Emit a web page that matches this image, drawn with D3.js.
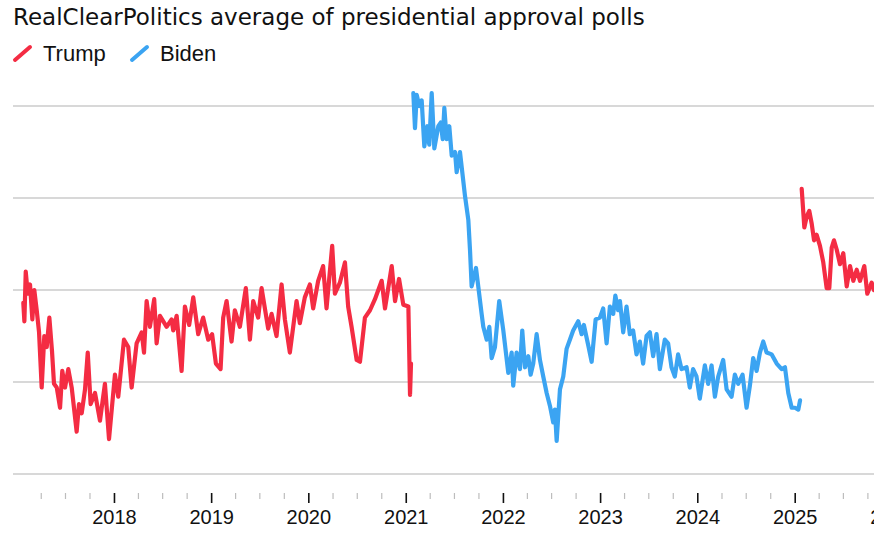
<!DOCTYPE html>
<html>
<head>
<meta charset="utf-8">
<script src="https://cdn.jsdelivr.net/npm/d3@7"></script>
<style>
  body { margin: 0; background: #fff; }
  svg { display: block; font-family: "Liberation Sans", Arial, Helvetica, sans-serif; }
</style>
</head>
<body>
<svg id="chart"></svg>
<script>
//--series data, dates as decimal years, values in % approval (RCP average)
const trumpFirstYears = [2017.067, 2017.078, 2017.092, 2017.113, 2017.136, 2017.160, 2017.180, 2017.205, 2017.229, 2017.256,
  2017.283, 2017.308, 2017.335, 2017.362, 2017.383, 2017.411, 2017.445, 2017.468, 2017.496, 2017.530,
  2017.565, 2017.616, 2017.640, 2017.668, 2017.702, 2017.730, 2017.760, 2017.805, 2017.856, 2017.907,
  2017.949, 2018.010, 2018.044, 2018.103, 2018.147, 2018.182, 2018.233, 2018.285, 2018.309, 2018.336,
  2018.370, 2018.414, 2018.439, 2018.473, 2018.542, 2018.593, 2018.610, 2018.645, 2018.696, 2018.730,
  2018.774, 2018.816, 2018.867, 2018.918, 2018.970, 2019.010, 2019.049, 2019.097, 2019.124, 2019.159,
  2019.210, 2019.244, 2019.296, 2019.357, 2019.399, 2019.433, 2019.484, 2019.519, 2019.587, 2019.622,
  2019.673, 2019.725, 2019.759, 2019.810, 2019.879, 2019.913, 2019.964, 2020.016, 2020.050, 2020.101,
  2020.152, 2020.187, 2020.245, 2020.273, 2020.324, 2020.376, 2020.409, 2020.444, 2020.496, 2020.530,
  2020.581, 2020.633, 2020.684, 2020.753, 2020.787, 2020.856, 2020.890, 2020.931, 2020.975, 2021.027,
  2021.044, 2021.054];
const trumpFirstValues = [44.3, 43.3, 46.0, 44.8, 45.3, 43.4, 45.0, 43.9, 42.7, 39.7,
  42.5, 41.9, 43.5, 41.7, 39.9, 39.7, 38.6, 40.6, 39.7, 40.7,
  39.7, 37.3, 38.8, 38.3, 39.6, 41.6, 38.8, 39.4, 37.9, 39.9,
  36.9, 40.4, 39.2, 42.3, 41.9, 39.7, 42.1, 42.7, 41.6, 44.4,
  43.0, 44.5, 42.1, 43.6, 43.0, 43.4, 42.8, 43.6, 40.6, 44.1,
  43.1, 44.6, 42.6, 43.5, 42.3, 42.6, 41.0, 40.7, 43.5, 44.4,
  42.2, 43.9, 43.0, 45.1, 42.3, 44.4, 43.5, 45.1, 42.9, 43.7,
  42.5, 45.3, 43.4, 41.6, 44.4, 43.2, 44.6, 45.3, 44.0, 45.5,
  46.3, 44.0, 47.4, 44.8, 45.4, 46.5, 44.1, 43.0, 41.2, 41.1,
  43.5, 43.9, 44.5, 45.5, 44.0, 46.3, 44.4, 45.6, 44.2, 44.1,
  39.3, 41.0];

const bidenYears = [2021.078, 2021.095, 2021.113, 2021.140, 2021.164, 2021.191, 2021.222, 2021.242, 2021.267, 2021.294,
  2021.335, 2021.360, 2021.380, 2021.397, 2021.421, 2021.448, 2021.473, 2021.507, 2021.524, 2021.558,
  2021.610, 2021.644, 2021.661, 2021.678, 2021.723, 2021.746, 2021.781, 2021.798, 2021.833, 2021.860,
  2021.884, 2021.918, 2021.962, 2022.004, 2022.055, 2022.090, 2022.106, 2022.141, 2022.175, 2022.199,
  2022.227, 2022.261, 2022.285, 2022.312, 2022.347, 2022.381, 2022.415, 2022.450, 2022.484, 2022.518,
  2022.535, 2022.553, 2022.587, 2022.621, 2022.655, 2022.689, 2022.723, 2022.775, 2022.810, 2022.833,
  2022.878, 2022.913, 2022.954, 2022.998, 2023.032, 2023.067, 2023.101, 2023.135, 2023.157, 2023.186,
  2023.204, 2023.238, 2023.272, 2023.306, 2023.340, 2023.375, 2023.409, 2023.443, 2023.478, 2023.512,
  2023.546, 2023.581, 2023.615, 2023.666, 2023.700, 2023.735, 2023.769, 2023.803, 2023.838, 2023.890,
  2023.923, 2023.957, 2023.992, 2024.026, 2024.078, 2024.112, 2024.147, 2024.181, 2024.215, 2024.266,
  2024.301, 2024.352, 2024.386, 2024.420, 2024.465, 2024.506, 2024.540, 2024.574, 2024.609, 2024.643,
  2024.677, 2024.712, 2024.764, 2024.815, 2024.866, 2024.900, 2024.934, 2024.969, 2025.003, 2025.037,
  2025.055];
const bidenValues = [55.7, 53.8, 55.6, 55.0, 55.3, 52.8, 53.9, 52.9, 55.7, 52.7,
  53.9, 54.1, 53.2, 54.9, 53.2, 53.9, 52.3, 52.5, 51.4, 52.5,
  50.1, 48.8, 47.2, 45.2, 46.2, 45.2, 43.7, 43.0, 42.3, 43.0,
  41.3, 41.9, 44.4, 42.8, 40.5, 41.6, 39.8, 41.6, 40.7, 42.8,
  40.8, 41.4, 40.4, 41.0, 42.6, 41.2, 40.3, 39.4, 38.7, 37.8,
  38.5, 36.8, 39.6, 40.3, 41.8, 42.3, 42.8, 43.3, 42.6, 43.1,
  42.0, 41.1, 43.4, 43.5, 44.0, 42.1, 44.1, 43.7, 44.7, 43.9,
  44.4, 42.7, 44.1, 42.6, 42.8, 41.5, 42.2, 41.0, 42.5, 42.7,
  41.4, 42.6, 40.7, 42.3, 42.1, 40.8, 40.3, 41.5, 40.7, 40.8,
  39.7, 40.7, 40.3, 39.1, 40.9, 39.9, 40.9, 39.2, 40.3, 41.2,
  39.6, 39.2, 40.4, 39.9, 40.4, 38.6, 39.8, 41.3, 40.6, 41.6,
  42.2, 41.6, 41.5, 41.0, 40.7, 40.8, 39.4, 38.6, 38.6, 38.5,
  39.0];

const trumpSecondYears = [2025.072, 2025.099, 2025.124, 2025.150, 2025.175, 2025.199, 2025.226, 2025.260, 2025.294, 2025.329,
  2025.356, 2025.381, 2025.404, 2025.432, 2025.466, 2025.500, 2025.535, 2025.569, 2025.603, 2025.638,
  2025.672, 2025.716, 2025.747, 2025.792, 2025.816, 2025.840];
const trumpSecondValues = [50.5, 48.4, 49.0, 49.3, 48.6, 47.7, 48.0, 47.4, 46.5, 45.1,
  45.1, 47.3, 47.7, 47.2, 46.4, 47.0, 45.2, 46.3, 45.5, 46.1,
  45.5, 46.3, 44.8, 45.4, 45.0, 45.3];

const gridValues = [35, 40, 45, 50, 55];
const yearTicks = [2018, 2019, 2020, 2021, 2022, 2023, 2024, 2025, 2026];
const legendNames = ["Trump", "Biden"];
//--

//--canvas
const width = 874, height = 545;
const left = 13;
const colors = { Trump: "#f42c43", Biden: "#3ba4f2" };

const svg = d3.select("#chart").attr("width", width).attr("height", height);

// decimal year -> Date
const toDate = y => {
  const yr = Math.floor(y);
  const a = new Date(yr, 0, 1), b = new Date(yr + 1, 0, 1);
  return new Date(+a + (y - yr) * (b - a));
};

const x = d3.scaleTime()
  .domain([toDate(2016.961), toDate(2025.816)])
  .range([left, width]);
const y = d3.scaleLinear().domain([35, 55]).range([474, 106]);
//--

//--title and legend
svg.append("text")
  .attr("x", 13).attr("y", 25)
  .attr("font-size", 23).attr("fill", "#111")
  .attr("font-family", "'DejaVu Sans', sans-serif")
  .text("RealClearPolitics average of presidential approval polls");

const leg = svg.append("g").attr("transform", "translate(14,61)");
const legX = [0, 117];
legendNames.forEach((n, i) => {
  const g = leg.append("g").attr("transform", `translate(${legX[i]},0)`);
  g.append("line")
    .attr("x1", 1).attr("y1", -1).attr("x2", 16).attr("y2", -14)
    .attr("stroke", colors[n]).attr("stroke-width", 4).attr("stroke-linecap", "round");
  g.append("text").attr("x", 29).attr("y", 0)
    .attr("font-size", 22).attr("fill", "#111").text(n);
});
//--

//--gridlines
svg.append("g").selectAll("line")
  .data(gridValues).enter().append("line")
  .attr("x1", left).attr("x2", width)
  .attr("y1", d => y(d)).attr("y2", d => y(d))
  .attr("stroke", "#cbcbcb").attr("stroke-width", 1.5);
//--

//--x axis: quarterly minor ticks and yearly major ticks
const minorTicks = d3.timeMonth.range(new Date(2017, 3, 1), new Date(2025, 11, 1), 3)
  .filter(d => d.getMonth() !== 0);

const minor = svg.append("g").attr("transform", "translate(0,493)")
  .call(d3.axisBottom(x).tickValues(minorTicks).tickSize(6).tickFormat(""));
minor.select(".domain").remove();
minor.selectAll(".tick line").attr("stroke", "#bdbdbd").attr("stroke-width", 1.2);

const major = svg.append("g").attr("transform", "translate(0,493)")
  .call(d3.axisBottom(x)
    .tickValues(yearTicks.map(t => new Date(t, 0, 1)))
    .tickSize(10).tickPadding(7)
    .tickFormat(d3.timeFormat("%Y")));
major.select(".domain").remove();
major.selectAll(".tick line").attr("stroke", "#111").attr("stroke-width", 1.6);
major.selectAll(".tick text")
  .attr("font-size", 20).attr("fill", "#111")
  .attr("font-family", "'Liberation Sans', Arial, sans-serif");
//--

//--lines
const line = d3.line()
  .x(d => x(toDate(d[0])))
  .y(d => y(d[1]));

const series = [
  { name: "Trump", years: trumpFirstYears, values: trumpFirstValues },
  { name: "Biden", years: bidenYears, values: bidenValues },
  { name: "Trump", years: trumpSecondYears, values: trumpSecondValues }
];

svg.append("g").selectAll("path")
  .data(series).enter().append("path")
  .attr("d", s => line(d3.zip(s.years, s.values)))
  .attr("fill", "none")
  .attr("stroke", s => colors[s.name])
  .attr("stroke-width", 4.2)
  .attr("stroke-linejoin", "round")
  .attr("stroke-linecap", "round");
//--
</script>
</body>
</html>
